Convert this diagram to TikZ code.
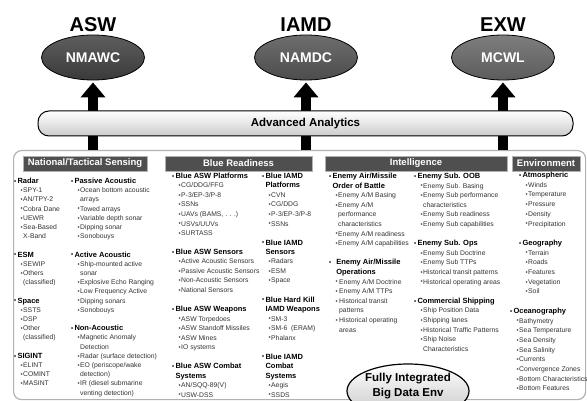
\documentclass[tikz,border=0pt]{standalone}
\usepackage{fontspec}
\setmainfont{Liberation Sans}
\usetikzlibrary{arrows.meta,shapes.geometric}
\definecolor{hdrgray}{HTML}{4F4F4F}
\definecolor{eonet}{HTML}{5E5E5E}
\definecolor{eoneb}{HTML}{3A3A3A}
\definecolor{etwot}{HTML}{6E6E6E}
\definecolor{etwob}{HTML}{4C4C4C}
\definecolor{ethrt}{HTML}{7E7E7E}
\definecolor{ethrb}{HTML}{5C5C5C}
\newcommand\bul{{\fontsize{6}{6}\selectfont\raisebox{0.1pt}{•}}}
\newcommand\hfont{\fontsize{7.5}{8}\selectfont\bfseries\color{black}}
\newcommand\hdl[1]{{\hfont\bul\hspace{1.2pt}#1}}
\newcommand\hcl[1]{{\hfont\phantom{\bul\hspace{1.2pt}}#1}}
\newcommand\iml[1]{\hspace{6.5pt}\bul\hspace{0.4pt}#1}
\newcommand\ctl[1]{\hspace{6.5pt}\phantom{\bul\hspace{0.4pt}}#1}
\newcommand\grp[5]{\foreach \tx [count=\ii from 0] in {#5}{\node[txt] (#1\ii) at (#2,#3+\ii*#4+2.5) {\tx};}}
\begin{document}
\begin{tikzpicture}[x=1pt,y=-1pt,
  txt/.style={anchor=base west, inner sep=0pt, font=\fontsize{6.8}{8}\selectfont, text=black!80},
  hdr/.style={fill=hdrgray, draw=gray!60, line width=0.6pt, text=white, font=\fontsize{9.5}{10}\selectfont\bfseries, minimum height=15pt, inner sep=0pt},
  capell/.style={ellipse, draw=black, line width=0.8pt, minimum width=103pt, minimum height=45pt, inner sep=0pt, text=white, font=\fontsize{14}{14}\selectfont\bfseries},
  lbl/.style={anchor=base, inner sep=0pt, font=\fontsize{20}{20}\selectfont\bfseries},
  arr/.style={line width=10pt, -{Triangle[width=24pt,length=15pt]}, shorten >=2pt}]
\useasboundingbox (0,0) rectangle (587,401);
\fill[white] (0,0) rectangle (587,401);
% main panel
\node[draw=gray!60, line width=1.2pt, rounded corners=8pt, fill=white, minimum width=572pt, minimum height=249pt, anchor=north west, inner sep=0pt] (main) at (13,150) {};
% top capabilities
\node[capell, top color=eonet, bottom color=eoneb] (nmawc) at (93,57.5) {NMAWC};
\node[capell, top color=etwot, bottom color=etwob] (namdc) at (306,57.5) {NAMDC};
\node[capell, top color=ethrt, bottom color=ethrb] (mcwl) at (503,57.5) {MCWL};
\node[lbl] (asw) at (93,32) {ASW};
\node[lbl] (iamd) at (306,32) {IAMD};
\node[lbl] (exw) at (503,32) {EXW};
% arrows
\draw[arr] (main.north -| nmawc.south) -- (nmawc.south);
\draw[arr] (main.north -| namdc.south) -- (namdc.south);
\draw[arr] (main.north -| mcwl.south) -- (mcwl.south);
% analytics bar
\node[rounded corners=11pt, draw=black, line width=1pt, minimum width=535pt, minimum height=25pt, inner sep=0pt, top color=white, bottom color=gray!40, font=\fontsize{11.5}{12}\selectfont\bfseries] (aa) at (305.5,123.5) {Advanced Analytics};
% section headers
\node[hdr, minimum width=124pt] (hnat) at (85,163.5) {National/Tactical Sensing};
\node[hdr, minimum width=147pt] (hblue) at (238.5,163.5) {Blue Readiness};
\node[hdr, minimum width=182pt] (hint) at (416,163.5) {Intelligence};
\node[hdr, minimum width=68pt] (henv) at (546,163.5) {Environment};
% National / Tactical Sensing
\grp{na}{14}{181}{9.2}{{\hdl{Radar}},{\iml{SPY-1}},{\iml{AN/TPY-2}},{\iml{Cobra Dane}},{\iml{UEWR}},{\iml{Sea-Based}},{\ctl{X-Band}},{},
{\hdl{ESM}},{\iml{SEWIP}},{\iml{Others}},{\ctl{(classified)}},{},
{\hdl{Space}},{\iml{SSTS}},{\iml{DSP}},{\iml{Other}},{\ctl{(classified)}},{},
{\hdl{SIGINT}},{\iml{ELINT}},{\iml{COMINT}},{\iml{MASINT}}}
\grp{nb}{71}{181}{9.2}{{\hdl{Passive Acoustic}},{\iml{Ocean bottom acoustic}},{\ctl{arrays}},{\iml{Towed arrays}},{\iml{Variable depth sonar}},{\iml{Dipping sonar}},{\iml{Sonobouys}},{},
{\hdl{Active Acoustic}},{\iml{Ship-mounted active}},{\ctl{sonar}},{\iml{Explosive Echo Ranging}},{\iml{Low Frequency Active}},{\iml{Dipping sonars}},{\iml{Sonobouys}},{},
{\hdl{Non-Acoustic}},{\iml{Magnetic Anomaly}},{\ctl{Detection}},{\iml{Radar (surface detection)}},{\iml{EO (periscope/wake}},{\ctl{detection)}},{\iml{IR (diesel submarine}},{\ctl{venting detection)}}}
% Blue Readiness
\grp{ba}{172}{176}{9.5}{{\hdl{Blue ASW Platforms}},{\iml{CG/DDG/FFG}},{\iml{P-3/EP-3/P-8}},{\iml{SSNs}},{\iml{UAVs (BAMS, . . .)}},{\iml{USVs/UUVs}},{\iml{SURTASS}},{},
{\hdl{Blue ASW Sensors}},{\iml{Active Acoustic Sensors}},{\iml{Passive Acoustic Sensors}},{\iml{Non-Acoustic Sensors}},{\iml{National Sensors}},{},
{\hdl{Blue ASW Weapons}},{\iml{ASW Torpedoes}},{\iml{ASW Standoff Missiles}},{\iml{ASW Mines}},{\iml{IO systems}},{},
{\hdl{Blue ASW Combat}},{\hcl{Systems}},{\iml{AN/SQQ-89(V)}},{\iml{USW-DSS}}}
\grp{bb}{262}{176}{9.5}{{\hdl{Blue IAMD}},{\hcl{Platforms}},{\iml{CVN}},{\iml{CG/DDG}},{\iml{P-3/EP-3/P-8}},{\iml{SSNs}},{},
{\hdl{Blue IAMD}},{\hcl{Sensors}},{\iml{Radars}},{\iml{ESM}},{\iml{Space}},{},
{\hdl{Blue Hard Kill}},{\hcl{IAMD Weapons}},{\iml{SM-3}},{\iml{SM-6\ \ (ERAM)}},{\iml{Phalanx}},{},
{\hdl{Blue IAMD}},{\hcl{Combat}},{\hcl{Systems}},{\iml{Aegis}},{\iml{SSDS}}}
% Intelligence
\grp{ia}{329}{176}{9.6}{{\hdl{Enemy Air/Missile}},{\hcl{Order of Battle}},{\iml{Enemy A/M Basing}},{\iml{Enemy A/M}},{\ctl{performance}},{\ctl{characteristics}},{\iml{Enemy A/M readiness}},{\iml{Enemy A/M capabilities}},{},
{{\hfont\bul\hspace{5pt}Enemy Air/Missile}},{{\hfont\phantom{\bul}\hspace{5pt}Operations}},{\iml{\hspace{1pt}Enemy A/M Doctrine}},{\iml{\hspace{1pt}Enemy A/M TTPs}},{\iml{\hspace{1pt}Historical transit}},{\ctl{\hspace{1pt}patterns}},{\iml{\hspace{1pt}Historical operating}},{\ctl{\hspace{1pt}areas}}}
\grp{ib}{414}{176}{9.6}{{\hdl{Enemy Sub. OOB}},{\iml{Enemy Sub. Basing}},{\iml{Enemy Sub performance}},{\ctl{characteristics}},{\iml{Enemy Sub readiness}},{\iml{Enemy Sub capabilities}},{},
{\hdl{Enemy Sub. Ops}},{\iml{Enemy Sub Doctrine}},{\iml{Enemy Sub TTPs}},{\iml{Historical transit patterns}},{\iml{Historical operating areas}},{},
{\hdl{Commercial Shipping}},{\iml{Ship Position Data}},{\iml{Shipping lanes}},{\iml{Historical Traffic Patterns}},{\iml{Ship Noise}},{\ctl{Characteristics}}}
% Environment
\grp{ea}{519}{175}{9.7}{{\hdl{Atmospheric}},{\iml{Winds}},{\iml{Temperature}},{\iml{Pressure}},{\iml{Density}},{\iml{Precipitation}},{},
{\hdl{Geography}},{\iml{Terrain}},{\iml{Roads}},{\iml{Features}},{\iml{Vegetation}},{\iml{Soil}}}
\grp{eb}{510}{310.8}{9.7}{{\hdl{Oceanography}},{\iml{Bathymetry}},{\iml{Sea Temperature}},{\iml{Sea Density}},{\iml{Sea Salinity}},{\iml{Currents}},{\iml{Convergence Zones}},{\iml{Bottom Characteristics}},{\iml{Bottom Features}}}
% big data ellipse
\node[ellipse, draw=black, line width=1.2pt, minimum width=122pt, minimum height=54pt, inner sep=0pt, top color=white, bottom color=gray!45] (fib) at (408,391) {};
\node[align=center, inner sep=0pt, font=\fontsize{11.5}{15.5}\selectfont\bfseries] (fibtext) at (408,386) {Fully Integrated\\Big Data Env};
\end{tikzpicture}
\end{document}
